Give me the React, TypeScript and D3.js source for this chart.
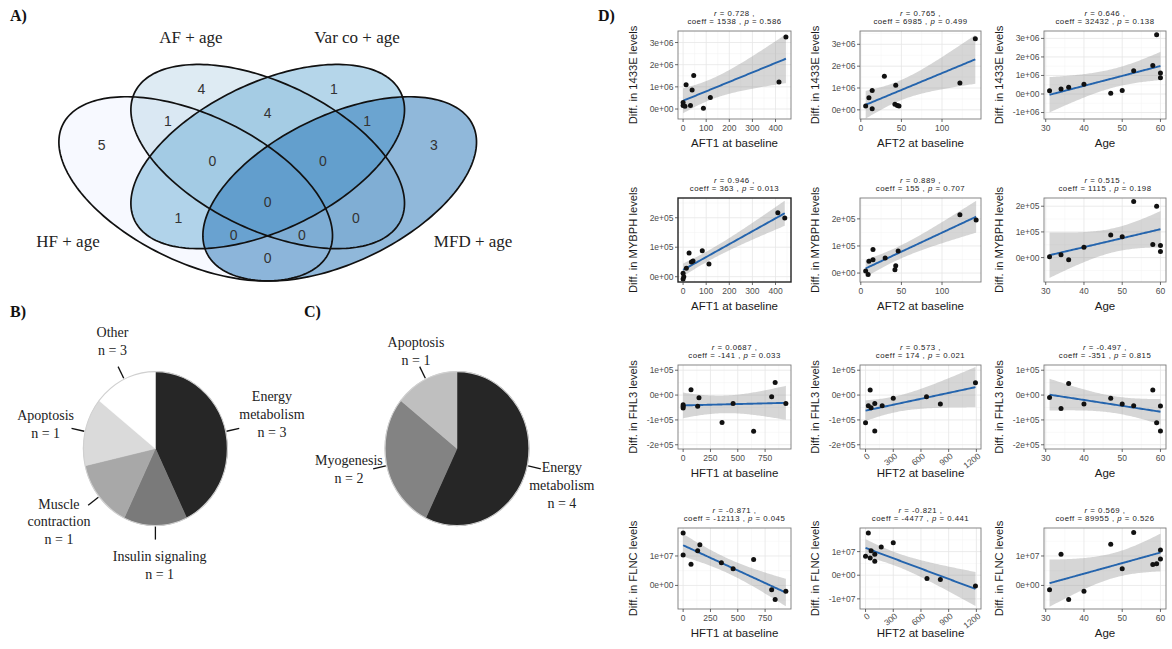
import React from 'react';
import * as d3 from 'd3';

// ---------- A) Venn diagram ----------
const vennSetNames = ['HF + age', 'AF + age', 'Var co + age', 'MFD + age'];
const vennSetColors = ['#eff3ff', '#bdd7e7', '#6baed6', '#2171b5'];
const vennRegions = ['HF', 'AF', 'VC', 'MFD', 'HF+AF', 'AF+VC', 'VC+MFD', 'HF+AF+VC', 'AF+VC+MFD',
  'HF+VC', 'HF+AF+VC+MFD', 'AF+MFD', 'HF+VC+MFD', 'HF+AF+MFD', 'HF+MFD'];
const vennCounts = [5, 4, 1, 3, 1, 4, 1, 0, 0, 1, 0, 0, 0, 0, 0];

// ---------- B) / C) pies ----------
const pieBCategories = ['Energy\nmetabolism', 'Insulin signaling', 'Muscle\ncontraction', 'Apoptosis', 'Other'];
const pieBShares = [3, 1, 1, 1, 1];
const pieBCounts = [3, 1, 1, 1, 3];
const pieCCategories = ['Energy\nmetabolism', 'Myogenesis', 'Apoptosis'];
const pieCCounts = [4, 2, 1];

// ---------- D) scatter panels ----------
const proteins = ['1433E', 'MYBPH', 'FHL3', 'FLNC'];
const predictorsTop = ['AFT1 at baseline', 'AFT2 at baseline', 'Age'];
const predictorsBottom = ['HFT1 at baseline', 'HFT2 at baseline', 'Age'];
const rValues = ['0.728', '0.765', '0.646', '0.946', '0.889', '0.515', '0.0687', '0.573', '-0.497', '-0.871', '-0.821', '0.569'];
const coeffValues = ['1538', '6985', '32432', '363', '155', '1115', '-141', '174', '-351', '-12113', '-4477', '89955'];
const pValues = ['0.586', '0.499', '0.138', '0.013', '0.707', '0.198', '0.033', '0.021', '0.815', '0.045', '0.441', '0.526'];

// 1433E
const aft1_1433e = [0, 0, 8, 13, 32, 39, 46, 88, 118, 415, 445];
const d1433e_aft1 = [0.29e6, 0.16e6, 0.13e6, 1.10e6, 0.16e6, 0.86e6, 1.51e6, 0.03e6, 0.52e6, 1.22e6, 3.25e6];
const aft2_1433e = [6, 10, 14, 14, 29, 42, 43, 45, 47, 122, 141];
const d1433e_aft2 = [0.17e6, 0.55e6, 0.88e6, 0.05e6, 1.54e6, 0.25e6, 1.13e6, 0.2e6, 0.18e6, 1.23e6, 3.25e6];
const age_1433e = [31, 34, 36, 40, 47, 50, 53, 58, 59, 60, 60];
const d1433e_age = [0.17e6, 0.27e6, 0.37e6, 0.52e6, 0.04e6, 0.19e6, 1.25e6, 1.54e6, 3.2e6, 1.13e6, 0.88e6];
// MYBPH
const aft1_mybph = [0, 0, 3, 14, 26, 36, 43, 83, 112, 410, 440];
const dmybph_aft1 = [0.12e5, -0.08e5, 0, 0.29e5, 0.8e5, 0.5e5, 0.53e5, 0.88e5, 0.43e5, 2.17e5, 1.99e5];
const aft2_mybph = [6, 9, 10, 15, 15, 30, 42, 43, 46, 122, 142];
const dmybph_aft2 = [0.08e5, -0.05e5, 0.44e5, 0.87e5, 0.49e5, 0.56e5, 0.12e5, 0.27e5, 0.81e5, 2.15e5, 1.96e5];
const age_mybph = [31, 34, 36, 40, 47, 50, 53, 58, 59, 60, 60];
const dmybph_age = [0.03e5, 0.11e5, -0.08e5, 0.4e5, 0.88e5, 0.81e5, 2.18e5, 0.51e5, 2.0e5, 0.47e5, 0.24e5];
// FHL3
const hft1_fhl3 = [0, 0, 0, 72, 133, 145, 356, 457, 645, 810, 842, 940];
const dfhl3_hft1 = [-0.39e5, -0.52e5, -0.45e5, 0.21e5, -0.45e5, -0.11e5, -1.1e5, -0.34e5, -1.46e5, -0.07e5, 0.51e5, -0.34e5];
const hft2_fhl3 = [0, 30, 50, 60, 100, 100, 180, 300, 660, 810, 1190];
const dfhl3_hft2 = [-1.11e5, -0.43e5, 0.2e5, -0.51e5, -0.34e5, -1.45e5, -0.43e5, -0.13e5, -0.07e5, -0.36e5, 0.5e5];
const age_fhl3 = [31, 34, 36, 40, 47, 50, 53, 58, 59, 60, 60];
const dfhl3_age = [-0.1e5, -0.54e5, 0.47e5, -0.36e5, -0.13e5, -0.36e5, -0.43e5, 0.2e5, -1.11e5, -0.44e5, -1.45e5];
// FLNC
const hft1_flnc = [0, 0, 72, 133, 153, 350, 457, 645, 810, 842, 940];
const dflnc_hft1 = [1.78e7, 1.03e7, 0.72e7, 1.18e7, 1.38e7, 0.77e7, 0.57e7, 0.88e7, -0.15e7, -0.48e7, -0.2e7];
const hft2_flnc = [0, 30, 50, 60, 100, 100, 170, 300, 665, 810, 1190];
const dflnc_hft2 = [0.8e7, 1.79e7, 0.73e7, 1.04e7, 0.59e7, 0.89e7, 1.2e7, 1.38e7, -0.14e7, -0.18e7, -0.46e7];
const age_flnc = [31, 34, 36, 40, 47, 50, 53, 58, 59, 60, 60];
const dflnc_age = [-0.15e7, 1.06e7, -0.48e7, -0.2e7, 1.4e7, 0.57e7, 1.8e7, 0.71e7, 0.74e7, 0.9e7, 1.2e7];

// axis breaks
const xTicksAft1 = [0, 100, 200, 300, 400];
const xTicksAft2 = [0, 50, 100];
const xTicksAge = [30, 40, 50, 60];
const xTicksHft1 = [0, 250, 500, 750];
const xTicksHft2 = [0, 300, 600, 900, 1200];
const yTicks1433e = [0, 1e6, 2e6, 3e6];
const yTicks1433eAge = [-1e6, 0, 1e6, 2e6, 3e6];
const yTicksMybph = [0, 1e5, 2e5];
const yTicksFhl3 = [-2e5, -1e5, 0, 1e5];
const yTicksFlnc = [0, 1e7];
const yTicksFlncHft2 = [-1e7, 0, 1e7];

const SANS = "'Liberation Sans', Arial, sans-serif";
const SERIF = "'Liberation Serif', 'Times New Roman', serif";

// ---------- layout ----------
const vennX = d3.scaleLinear().domain([0, 1]).range([27.7, 507.7]);
const vennY = d3.scaleLinear().domain([0, 1]).range([17.6, 340.7]);
const VA = 0.35, VB = 0.2;
const vennEllipses = [
  { cx: 0.35, cy: 0.53, rot: 45 },
  { cx: 0.5, cy: 0.43, rot: 45 },
  { cx: 0.5, cy: 0.43, rot: -45 },
  { cx: 0.65, cy: 0.53, rot: -45 },
];
const vennSetLabelPos = [[0.084, 0.691], [0.34, 0.06], [0.686, 0.06], [0.928, 0.691]];
const vennRegionPos = [[0.154, 0.395], [0.362, 0.221], [0.638, 0.221], [0.846, 0.395], [0.292, 0.319],
  [0.5, 0.295], [0.707, 0.319], [0.385, 0.444], [0.615, 0.444], [0.314, 0.619], [0.5, 0.57],
  [0.684, 0.619], [0.429, 0.673], [0.571, 0.673], [0.5, 0.744]];

const colX = [[678, 791], [860, 981], [1044, 1166]];
const rowTop = [31, 198, 365, 528];
const rowBottom = [119, 282, 449, 609];

const tCrit: Record<number, number> = { 8: 2.306, 9: 2.262, 10: 2.228, 11: 2.201 };

function sci(v: number) {
  if (v === 0) return '0e+00';
  const e = Math.floor(Math.log10(Math.abs(v)) + 1e-9);
  const m = Math.round(v / Math.pow(10, e));
  return `${m}e${e >= 0 ? '+' : '-'}${String(Math.abs(e)).padStart(2, '0')}`;
}

function minorBreaks(ticks: number[], dom: number[]) {
  const step = ticks[1] - ticks[0];
  const ext = [ticks[0] - step, ...ticks, ticks[ticks.length - 1] + step];
  const out: number[] = [];
  for (let i = 0; i < ext.length - 1; i++) out.push((ext[i] + ext[i + 1]) / 2);
  return out.filter(v => v >= dom[0] && v <= dom[1]);
}

function Venn() {
  const ellipsePath = (e: any) => {
    const th = (e.rot * Math.PI) / 180;
    const pts = d3.range(0, 200).map(i => {
      const t = (i / 200) * 2 * Math.PI;
      const ux = VA * Math.cos(t), uy = VB * Math.sin(t);
      return [vennX(e.cx + ux * Math.cos(th) - uy * Math.sin(th)), vennY(e.cy + ux * Math.sin(th) + uy * Math.cos(th))] as [number, number];
    });
    return d3.line().curve(d3.curveLinearClosed)(pts) as string;
  };
  return (
    <g>
      {vennEllipses.map((e, i) => (
        <path key={'f' + i} d={ellipsePath(e)} fill={vennSetColors[i]} fillOpacity={0.5} />
      ))}
      {vennEllipses.map((e, i) => (
        <path key={'s' + i} d={ellipsePath(e)} fill="none" stroke="#111" strokeWidth={1.7} />
      ))}
      {vennRegions.map((r, i) => (
        <text key={r} x={vennX(vennRegionPos[i][0])} y={vennY(vennRegionPos[i][1])} dy="0.36em"
          textAnchor="middle" fontFamily={SANS} fontSize={14} fill="#333">{vennCounts[i]}</text>
      ))}
      {vennSetNames.map((s, i) => (
        <text key={s} x={vennX(vennSetLabelPos[i][0])} y={vennY(vennSetLabelPos[i][1])} dy="0.35em"
          textAnchor="middle" fontFamily={SERIF} fontSize={17} fill="#222">{s}</text>
      ))}
    </g>
  );
}

function Pie({ cx, cy, rx, ry, cats, shares, counts, colors, offsets }: any) {
  const arcs = d3.pie<number>().sort(null).value(d => d)(shares);
  const arcGen = d3.arc<any>().innerRadius(0).outerRadius(rx);
  const pt = (a: number, d: number) => [cx + (rx + d) * Math.sin(a), cy - (ry + d) * Math.cos(a)];
  return (
    <g>
      <g transform={`translate(${cx},${cy}) scale(1,${ry / rx})`}>
        {arcs.map((a, i) => (
          <path key={i} d={arcGen(a) as string} fill={colors[i]} stroke={colors[i]} strokeWidth={0.5} />
        ))}
        <circle r={rx} fill="none" stroke="#d0d0d0" strokeWidth={1.2} />
      </g>
      {arcs.map((a, i) => {
        const mid = (a.startAngle + a.endAngle) / 2;
        const p0 = pt(mid, 1), p1 = pt(mid, 14);
        const lines = [...cats[i].split('\n'), `n = ${counts[i]}`];
        const lx = p1[0] + offsets[i][0], ly = p1[1] + offsets[i][1];
        return (
          <g key={'l' + i}>
            <line x1={p0[0]} y1={p0[1]} x2={p1[0]} y2={p1[1]} stroke="#111" strokeWidth={1.3} />
            <text fontFamily={SERIF} fontSize={14} fill="#222" textAnchor="middle">
              {lines.map((t, j) => (
                <tspan key={j} x={lx} y={ly + j * 17.9} dy="0.35em">{t}</tspan>
              ))}
            </text>
          </g>
        );
      })}
    </g>
  );
}

function Scatter({ p }: any) {
  const [x0, x1] = colX[p.col];
  const y0 = rowTop[p.row], y1 = rowBottom[p.row];
  const x = d3.scaleLinear().domain(p.xDomain).range([x0, x1]);
  const y = d3.scaleLinear().domain(p.yDomain).range([y1, y0]);
  const xs: number[] = p.xs, ys: number[] = p.ys;
  const n = xs.length;
  const mx = d3.mean(xs) as number, my = d3.mean(ys) as number;
  const sxx = d3.sum(xs, v => (v - mx) ** 2);
  const sxy = d3.sum(xs, (v, i) => (v - mx) * (ys[i] - my));
  const slope = sxy / sxx, icpt = my - slope * mx;
  const s = Math.sqrt(d3.sum(xs, (v, i) => (ys[i] - icpt - slope * v) ** 2) / (n - 2));
  const t = tCrit[n - 2];
  const [xmin, xmax] = d3.extent(xs) as [number, number];
  const grid = d3.range(0, 81).map(i => xmin + ((xmax - xmin) * i) / 80);
  const band = grid.map(g => {
    const fit = icpt + slope * g;
    const se = s * Math.sqrt(1 / n + (g - mx) ** 2 / sxx);
    return { g, fit, lo: fit - t * se, hi: fit + t * se };
  });
  const area = d3.area<any>().x(d => x(d.g)).y0(d => y(d.lo)).y1(d => y(d.hi));
  const line = d3.line<any>().x(d => x(d.g)).y(d => y(d.fit));
  const clipId = `clip${p.row}${p.col}`;
  const xMinor = minorBreaks(p.xTicks, p.xDomain);
  const yMinor = minorBreaks(p.yTicks, p.yDomain);
  const xMajor = p.xTicks.filter((v: number) => v >= p.xDomain[0] && v <= p.xDomain[1]);
  const yMajor = p.yTicks;
  const cxMid = (x0 + x1) / 2;
  const dark = p.row === 1 && p.col === 0;
  return (
    <g>
      <clipPath id={clipId}><rect x={x0} y={y0} width={x1 - x0} height={y1 - y0} /></clipPath>
      <rect x={x0} y={y0} width={x1 - x0} height={y1 - y0} fill="#fff" />
      {xMinor.map((v: number) => <line key={'xm' + v} x1={x(v)} x2={x(v)} y1={y0} y2={y1} stroke="#f2f2f2" strokeWidth={0.5} />)}
      {yMinor.map((v: number) => <line key={'ym' + v} x1={x0} x2={x1} y1={y(v)} y2={y(v)} stroke="#f2f2f2" strokeWidth={0.5} />)}
      {xMajor.map((v: number) => <line key={'xM' + v} x1={x(v)} x2={x(v)} y1={y0} y2={y1} stroke="#e6e6e6" strokeWidth={0.8} />)}
      {yMajor.map((v: number) => <line key={'yM' + v} x1={x0} x2={x1} y1={y(v)} y2={y(v)} stroke="#e6e6e6" strokeWidth={0.8} />)}
      <g clipPath={`url(#${clipId})`}>
        <path d={area(band) as string} fill="#999" fillOpacity={0.4} />
        <path d={line(band) as string} fill="none" stroke="#2464ad" strokeWidth={1.9} />
        {xs.map((v, i) => <circle key={i} cx={x(v)} cy={y(ys[i])} r={2.5} fill="#111" />)}
      </g>
      <rect x={x0} y={y0} width={x1 - x0} height={y1 - y0} fill="none"
        stroke={dark ? '#222' : '#7a7a7a'} strokeWidth={dark ? 1.4 : 0.9} />
      {yMajor.map((v: number) => (
        <g key={'yt' + v}>
          <line x1={x0 - 3} x2={x0} y1={y(v)} y2={y(v)} stroke="#444" strokeWidth={0.8} />
          <text x={x0 - 4.5} y={y(v)} dy="0.35em" textAnchor="end" fontFamily={SANS} fontSize={8.5} fill="#4d4d4d">{sci(v)}</text>
        </g>
      ))}
      {xMajor.map((v: number) => (
        <g key={'xt' + v}>
          <line x1={x(v)} x2={x(v)} y1={y1} y2={y1 + 3} stroke="#444" strokeWidth={0.8} />
          {p.rotate ? (
            <text transform={`translate(${x(v) + 3},${y1 + 6}) rotate(-38)`} dy="0.35em" textAnchor="end"
              fontFamily={SANS} fontSize={8.5} fill="#4d4d4d">{v}</text>
          ) : (
            <text x={x(v)} y={y1 + 9} dy="0.35em" textAnchor="middle" fontFamily={SANS} fontSize={8.5} fill="#4d4d4d">{v}</text>
          )}
        </g>
      ))}
      <text x={cxMid} y={y1 + 24} dy="0.35em" textAnchor="middle" fontFamily={SANS} fontSize={11.5} fill="#1a1a1a">{p.xLabel}</text>
      <text transform={`translate(${x0 - 45},${(y0 + y1) / 2}) rotate(-90)`} dy="0.35em" textAnchor="middle"
        fontFamily={SANS} fontSize={11.2} fill="#1a1a1a">{p.yLabel}</text>
      <text x={cxMid} y={y0 - 18} dy="0.35em" textAnchor="middle" fontFamily={SANS} fontSize={7.8} letterSpacing={0.5} fill="#222">
        <tspan fontStyle="italic">r</tspan>{` = ${p.r} ,`}
      </text>
      <text x={cxMid} y={y0 - 9.5} dy="0.35em" textAnchor="middle" fontFamily={SANS} fontSize={7.8} letterSpacing={0.5} fill="#222">
        {`coeff = ${p.coeff} , `}<tspan fontStyle="italic">p</tspan>{` = ${p.p}`}
      </text>
    </g>
  );
}

const scatterXs = [
  [aft1_1433e, aft2_1433e, age_1433e],
  [aft1_mybph, aft2_mybph, age_mybph],
  [hft1_fhl3, hft2_fhl3, age_fhl3],
  [hft1_flnc, hft2_flnc, age_flnc],
];
const scatterYs = [
  [d1433e_aft1, d1433e_aft2, d1433e_age],
  [dmybph_aft1, dmybph_aft2, dmybph_age],
  [dfhl3_hft1, dfhl3_hft2, dfhl3_age],
  [dflnc_hft1, dflnc_hft2, dflnc_age],
];
const xDomains = [
  [[-22, 467], [-1, 148], [29.55, 61.45]],
  [[-22, 467], [-1, 148], [29.55, 61.45]],
  [[-47, 987], [-60, 1250], [29.55, 61.45]],
  [[-47, 987], [-60, 1250], [29.55, 61.45]],
];
const yDomains = [
  [[-0.45e6, 3.52e6], [-0.42e6, 3.61e6], [-1.35e6, 3.4e6]],
  [[-0.18e5, 2.67e5], [-0.33e5, 2.77e5], [-0.95e5, 2.32e5]],
  [[-2.17e5, 1.21e5], [-2.17e5, 1.21e5], [-2.17e5, 1.21e5]],
  [[-0.8e7, 1.95e7], [-1.43e7, 2.0e7], [-0.8e7, 1.95e7]],
];
const xTicksAll = [
  [xTicksAft1, xTicksAft2, xTicksAge], [xTicksAft1, xTicksAft2, xTicksAge],
  [xTicksHft1, xTicksHft2, xTicksAge], [xTicksHft1, xTicksHft2, xTicksAge],
];
const yTicksAll = [
  [yTicks1433e, yTicks1433e, yTicks1433eAge], [yTicksMybph, yTicksMybph, yTicksMybph],
  [yTicksFhl3, yTicksFhl3, yTicksFhl3], [yTicksFlnc, yTicksFlncHft2, yTicksFlnc],
];

const panels = d3.range(12).map(k => {
  const row = Math.floor(k / 3), col = k % 3;
  return {
    row, col,
    xs: scatterXs[row][col], ys: scatterYs[row][col],
    xDomain: xDomains[row][col], yDomain: yDomains[row][col],
    xTicks: xTicksAll[row][col], yTicks: yTicksAll[row][col],
    xLabel: (row < 2 ? predictorsTop : predictorsBottom)[col],
    yLabel: `Diff. in ${proteins[row]} levels`,
    r: rValues[k], coeff: coeffValues[k], p: pValues[k],
    rotate: row >= 2 && col === 1,
  };
});

export default function App() {
  return (
    <svg width={1172} height={649} style={{ position: 'absolute', left: 0, top: 0, background: '#fff' }}>
      <rect width={1172} height={649} fill="#fff" />
      <Venn />
      <Pie cx={155.4} cy={448.6} rx={72} ry={77} cats={pieBCategories} shares={pieBShares} counts={pieBCounts}
        colors={['#262626', '#7a7a7a', '#a8a8a8', '#dadada', '#ffffff']}
        offsets={[[32.7, -32], [4.2, 16.1], [-29.2, -1.7], [-25.9, -13], [-5.6, -34.6]]} />
      <Pie cx={457} cy={448.6} rx={72} ry={77} cats={pieCCategories} shares={pieCCounts} counts={pieCCounts}
        colors={['#262626', '#838383', '#bfbfbf']}
        offsets={[[21, -1.8], [-24.2, -8.8], [-3.7, -24.6]]} />
      {panels.map(p => <Scatter key={`${p.row}-${p.col}`} p={p} />)}
      <text x={10} y={21} fontFamily={SERIF} fontWeight="bold" fontSize={16} fill="#111">A)</text>
      <text x={10} y={317} fontFamily={SERIF} fontWeight="bold" fontSize={16} fill="#111">B)</text>
      <text x={304} y={317} fontFamily={SERIF} fontWeight="bold" fontSize={16} fill="#111">C)</text>
      <text x={598} y={21} fontFamily={SERIF} fontWeight="bold" fontSize={16} fill="#111">D)</text>
    </svg>
  );
}
